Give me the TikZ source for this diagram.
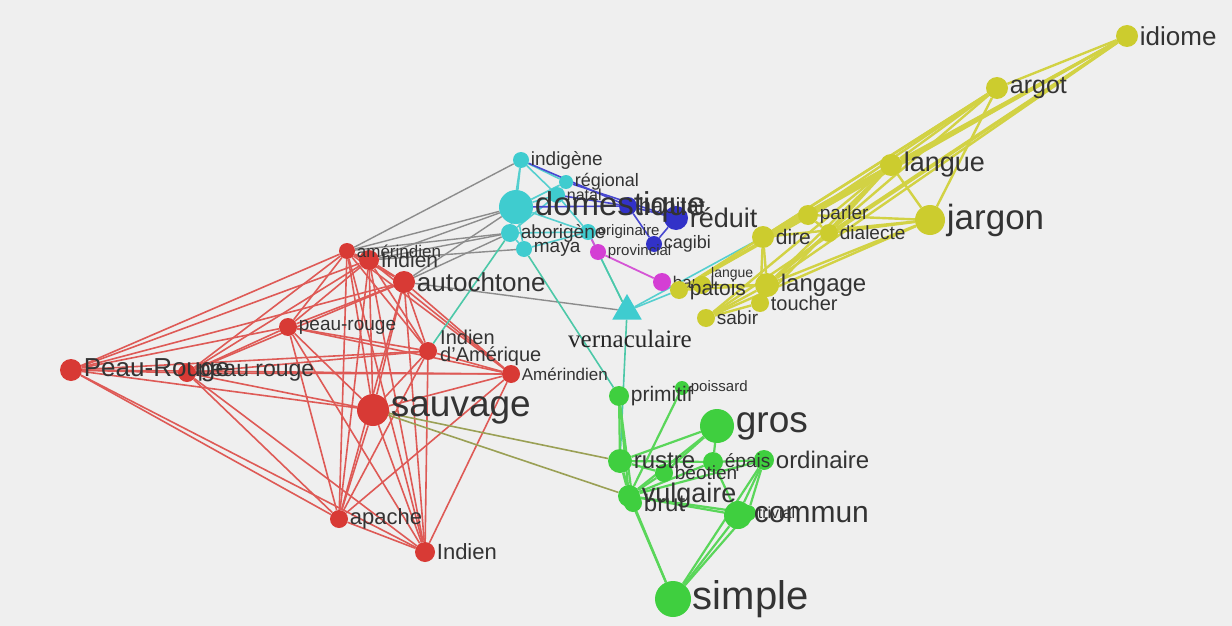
\documentclass[tikz,border=0pt]{standalone}
\usepackage{fontspec}
\setmainfont{Liberation Sans}
\newfontfamily\vfont{Liberation Serif}
\usetikzlibrary{shapes.geometric}
\definecolor{bg}{HTML}{EFEFEF}
\definecolor{cR}{HTML}{D83A35}
\definecolor{cC}{HTML}{3FCCCF}
\definecolor{cB}{HTML}{3232C8}
\definecolor{cM}{HTML}{D43FD4}
\definecolor{cY}{HTML}{CCCC2E}
\definecolor{cG}{HTML}{3FCF3F}
\definecolor{txt}{HTML}{333333}
\definecolor{eR}{HTML}{DE5A56}
\definecolor{eC}{HTML}{55CFCF}
\definecolor{eY}{HTML}{D2D244}
\definecolor{eG}{HTML}{5AD65A}
\definecolor{eGray}{HTML}{8C8C8C}
\definecolor{eOl}{HTML}{9AA055}
\definecolor{eB}{HTML}{4848D0}
\definecolor{eM}{HTML}{D555D5}
\definecolor{eT}{HTML}{4CC8A8}
\pgfdeclarelayer{edges}\pgfdeclarelayer{labels}
\pgfsetlayers{edges,main,labels}
\tikzset{
  dot/.style={circle, inner sep=0pt, draw=none},
  lbl/.style={anchor=west, inner sep=0pt, text=txt},
  eRs/.style={draw=eR, line width=1.6pt},
  eCs/.style={draw=eC, line width=1.6pt},
  eYs/.style={draw=eY, line width=2.4pt},
  eGs/.style={draw=eG, line width=2.2pt},
  eGrs/.style={draw=eGray, line width=1.4pt},
  eOls/.style={draw=eOl, line width=1.6pt},
  eBs/.style={draw=eB, line width=1.6pt},
  eMs/.style={draw=eM, line width=1.8pt},
  eTs/.style={draw=eT, line width=1.6pt},
}
\newcommand\gn[7]{%
  \node[dot, fill=#5, minimum size=#4*2pt] (#1) at (#2,#3) {};
  \begin{pgfonlayer}{labels}
  \node[lbl, font=\fontsize{#7}{#7}\selectfont] (#1-l) at ([xshift=1.5pt]#1.east) {#6};
  \end{pgfonlayer}}
\begin{document}
\begin{tikzpicture}[x=1pt,y=-1pt]
\useasboundingbox (0,0) rectangle (1232,626);
\begin{pgfonlayer}{edges}
\fill[bg] (0,0) rectangle (1232,626);
\end{pgfonlayer}
% red
\gn{am}{347}{251}{8}{cR}{amérindien}{17}
\gn{In}{369}{260}{10}{cR}{Indien}{21}
\gn{au}{404}{282}{11}{cR}{autochtone}{26}
\gn{prh}{288}{327}{9}{cR}{peau-rouge}{19}
\node[dot, fill=cR, minimum size=18pt] (IA) at (428,351) {};
\begin{pgfonlayer}{labels}
\node[lbl, align=left, font=\fontsize{20}{17}\selectfont] (IA-l) at (440,348) {Indien\\d'Amérique};
\end{pgfonlayer}
\gn{PR}{71}{370}{11}{cR}{Peau-Rouge}{26}
\gn{pr}{187}{373}{9}{cR}{peau rouge}{23}
\gn{Am}{511}{374}{9}{cR}{Amérindien}{17}
\gn{sa}{373}{410}{16}{cR}{sauvage}{37}
\gn{ap}{339}{519}{9}{cR}{apache}{22}
\gn{Ib}{425}{552}{10}{cR}{Indien}{22}
% cyan
\gn{ind}{521}{160}{8}{cC}{indigène}{19}
\gn{reg}{566}{182}{7}{cC}{régional}{18}
\gn{nat}{557}{195}{8}{cC}{natal}{16}
\gn{hab}{628}{206}{9}{cB}{habitat}{22}
\gn{dom}{516}{207}{17}{cC}{domestique}{33}
\gn{ab}{510}{233}{9}{cC}{aborigène}{19}
\gn{orig}{588}{232}{8}{cC}{originaire}{15}
\gn{maya}{524}{249}{8}{cC}{maya}{19}
\node[regular polygon, regular polygon sides=3, fill=cC, minimum size=34pt, inner sep=0pt] (vern) at (627,311) {};
\node[font=\vfont\fontsize{25}{25}\selectfont, text=black!85] (vern-l) at (630,339) {vernaculaire};
% blue
\gn{red}{676}{218}{12}{cB}{réduit}{27}
\gn{cag}{654}{244}{8}{cB}{cagibi}{18}
% magenta
\gn{prov}{598}{252}{8}{cM}{provincial}{15}
\node[dot, fill=cM, minimum size=18pt] (ban) at (662,282) {};
\node[lbl, font=\fontsize{17}{17}\selectfont] (ban-l) at ([xshift=1.5pt]ban.east) {banal};
% yellow
\gn{idi}{1127}{36}{11}{cY}{idiome}{26}
\gn{arg}{997}{88}{11}{cY}{argot}{25}
\gn{lan}{891}{165}{11}{cY}{langue}{27}
\gn{jar}{930}{220}{15}{cY}{jargon}{35}
\gn{par}{808}{215}{10}{cY}{parler}{19}
\gn{dia}{829}{233}{9}{cY}{dialecte}{19}
\gn{dire}{763}{237}{11}{cY}{dire}{21}
\gn{lng}{767}{285}{12}{cY}{langage}{24}
\gn{tou}{760}{303}{9}{cY}{toucher}{20}
\gn{sab}{706}{318}{9}{cY}{sabir}{19}
\gn{pat}{679}{290}{9}{cY}{patois}{21}
\node[dot, fill=cY, minimum size=18pt] (lsm) at (702,285) {};
\begin{pgfonlayer}{labels}
\node[lbl, font=\fontsize{14}{14}\selectfont] (lsm-l) at (711,274) {langue};
\end{pgfonlayer}
% green
\gn{prim}{619}{396}{10}{cG}{primitif}{21}
\gn{pois}{682}{388}{7}{cG}{poissard}{15}
\gn{gros}{717}{426}{17}{cG}{gros}{37}
\gn{rus}{620}{461}{12}{cG}{rustre}{24}
\gn{beo}{664}{473}{9}{cG}{béotien}{19}
\gn{epa}{713}{462}{10}{cG}{épais}{19}
\gn{ord}{764}{460}{10}{cG}{ordinaire}{24}
\gn{brut}{633}{503}{9}{cG}{brut}{24}
\gn{vul}{629}{496}{11}{cG}{vulgaire}{27}
\gn{tri}{748}{513}{8}{cG}{trivial}{16}
\gn{com}{738}{515}{14}{cG}{commun}{30}
\gn{sim}{673}{599}{18}{cG}{simple}{40}
% edges
\begin{pgfonlayer}{edges}
\foreach \a [count=\i] in {PR,pr,prh,am,In,au,IA,Am,sa,ap,Ib}{
  \foreach \b [count=\j] in {PR,pr,prh,am,In,au,IA,Am,sa,ap,Ib}{
    \ifnum\j>\i \draw[eRs] (\a)--(\b); \fi }}
\foreach \a/\b in {am/ab,In/ab,am/dom,In/dom,au/ab,au/dom,am/ind,au/vern,In/maya}
  \draw[eGrs] (\a)--(\b);
\draw[eTs] (IA)--(ab);
\foreach \a/\b in {sa/rus,sa/vul} \draw[eOls] (\a)--(\b);
\foreach \a/\b in {ind/dom,ind/ab,ind/reg,ind/nat,dom/ab,dom/maya,dom/nat,dom/orig,dom/reg,ab/maya,ab/orig,maya/orig,nat/reg,nat/orig,orig/vern,vern/pat,vern/dire,ab/nat}
  \draw[eCs] (\a)--(\b);
\foreach \a/\b in {maya/prim,vern/rus,prov/vern} \draw[eTs] (\a)--(\b);
\foreach \a/\b in {dom/hab,reg/red,hab/red,hab/cag,red/cag,nat/hab,ind/hab}
  \draw[eBs] (\a)--(\b);
\foreach \a/\b in {prov/ban,orig/prov,ban/pat} \draw[eMs] (\a)--(\b);
\foreach \a/\b in {idi/arg,idi/lan,idi/lng,idi/dia,idi/par,idi/pat,idi/dire,idi/sab,arg/lan,arg/jar,arg/lng,arg/par,arg/pat,arg/dire,lan/jar,lan/par,lan/dia,lan/lng,lan/dire,lan/pat,lan/tou,jar/par,jar/dia,jar/lng,jar/dire,jar/sab,par/dire,par/dia,dia/lng,dire/lng,lng/tou,lng/sab,lng/pat,pat/lsm,sab/tou,tou/dire,pat/par,lsm/lng,sab/lan}
  \draw[eYs] (\a)--(\b);
\foreach \a/\b in {prim/rus,prim/vul,prim/brut,pois/vul,gros/rus,gros/epa,gros/vul,gros/beo,rus/vul,rus/beo,rus/brut,beo/vul,epa/ord,epa/vul,epa/com,ord/com,ord/vul,ord/sim,com/vul,com/sim,vul/sim,tri/vul,tri/sim,ord/tri,brut/sim,com/tri,rus/epa}
  \draw[eGs] (\a)--(\b);
\end{pgfonlayer}
\end{tikzpicture}
\end{document}
